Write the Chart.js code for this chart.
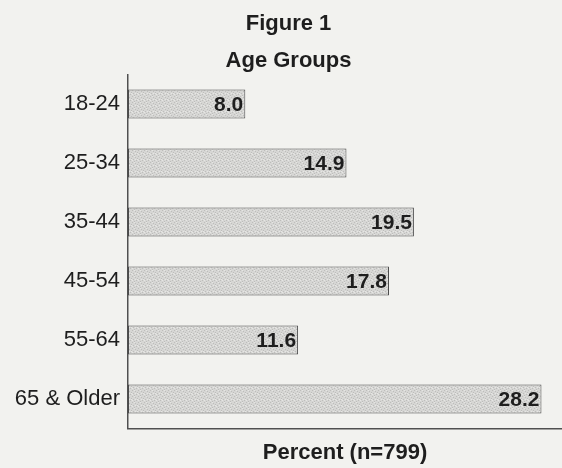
<!DOCTYPE html>
<html><head><meta charset="utf-8">
<script src="https://cdn.jsdelivr.net/npm/chart.js"></script>
<style>html,body{margin:0;padding:0;background:#f2f2ef;}#wrap{width:562px;height:468px;}</style>
</head><body><div id="wrap"><canvas id="c" width="562" height="468"></canvas></div>
<script>
const categories = ["18-24", "25-34", "35-44", "45-54", "55-64", "65 & Older"];
const percentValues = [8.0, 14.9, 19.5, 17.8, 11.6, 28.2];
const chartTitle = "Figure 1";
const chartSubtitle = "Age Groups";
const xAxisTitle = "Percent (n=799)";

const FONT = '"Liberation Sans", Arial, sans-serif';
const INK = '#1e1e1e';

function makePattern() {
  const p = document.createElement('canvas');
  p.width = 6; p.height = 6;
  const g = p.getContext('2d');
  g.fillStyle = '#d6d6d4';
  g.fillRect(0, 0, 6, 6);
  g.fillStyle = '#bdbdbb';
  [[0,0],[3,1],[1,3],[4,4],[2,5],[5,2]].forEach(([x,y]) => g.fillRect(x, y, 1, 1));
  g.fillStyle = '#e6e6e4';
  [[2,0],[5,3],[0,4],[3,3]].forEach(([x,y]) => g.fillRect(x, y, 1, 1));
  return g.createPattern(p, 'repeat');
}

const valueLabels = {
  id: 'valueLabels',
  afterDatasetsDraw(chart) {
    const ctx = chart.ctx;
    const meta = chart.getDatasetMeta(0);
    ctx.save();
    ctx.font = 'bold 21px ' + FONT;
    ctx.fillStyle = INK;
    ctx.textAlign = 'right';
    ctx.textBaseline = 'middle';
    meta.data.forEach((bar, i) => {
      ctx.fillText(percentValues[i].toFixed(1), bar.x - 2, bar.y + 1);
    });
    ctx.restore();
  }
};

const ctx = document.getElementById('c').getContext('2d');
new Chart(ctx, {
  type: 'bar',
  data: {
    labels: categories,
    datasets: [{
      data: percentValues,
      backgroundColor: makePattern(),
      borderColor: '#4a4a4a',
      borderWidth: 1,
      borderSkipped: false,
      categoryPercentage: 1.0,
      barPercentage: 0.49
    }]
  },
  options: {
    indexAxis: 'y',
    responsive: false,
    animation: false,
    devicePixelRatio: 1,
    layout: { padding: { left: 15, right: 0, top: 0, bottom: 0 } },
    plugins: {
      legend: { display: false },
      tooltip: { enabled: false },
      title: {
        display: true, text: chartTitle, color: INK,
        font: { family: FONT, size: 22, weight: 'bold', lineHeight: 1.2 },
        padding: { top: 11, bottom: 10.6 }
      },
      subtitle: {
        display: true, text: chartSubtitle, color: INK,
        font: { family: FONT, size: 22, weight: 'bold', lineHeight: 1.2 },
        padding: { top: 0, bottom: 0 }
      }
    },
    scales: {
      x: {
        min: 0, max: 29.6,
        grid: { display: false, drawTicks: false },
        border: { display: true, color: '#505050', width: 1.5 },
        ticks: { display: false },
        title: {
          display: true, text: xAxisTitle, color: INK,
          font: { family: FONT, size: 22, weight: 'bold', lineHeight: 1.2 },
          padding: { top: 11, bottom: 2 }
        }
      },
      y: {
        grid: { display: false, drawTicks: false },
        border: { display: true, color: '#505050', width: 1.5 },
        ticks: { color: INK, padding: 8, font: { family: FONT, size: 22 } },
        afterFit(scale) { scale.width = 113; }
      }
    }
  },
  plugins: [valueLabels]
});
</script>
</body></html>
